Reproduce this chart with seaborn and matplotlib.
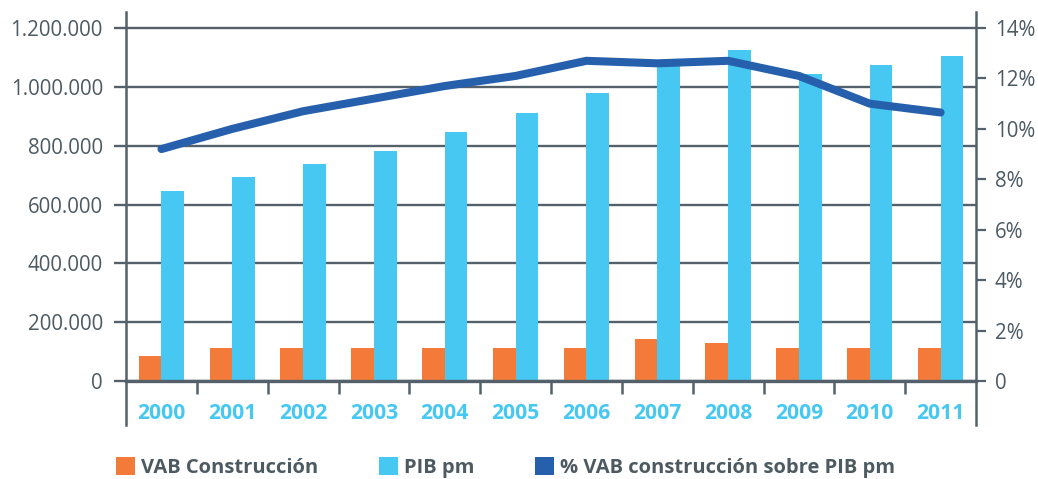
import numpy as np
import pandas as pd
import matplotlib
matplotlib.use("Agg")
import matplotlib.pyplot as plt
from matplotlib.patches import Patch
from matplotlib.ticker import FixedLocator
import seaborn as sns

years = ["2000", "2001", "2002", "2003", "2004", "2005",
         "2006", "2007", "2008", "2009", "2010", "2011"]
vab = [85000, 112000, 112000, 112000, 112000, 112000,
       112000, 143000, 129000, 112000, 112000, 112000]
pib = [646000, 694000, 738000, 782000, 847000, 912000,
       980000, 1085000, 1126000, 1044000, 1075000, 1106000]
pct = [9.2, 10.0, 10.7, 11.2, 11.7, 12.1, 12.7, 12.6, 12.7, 12.1, 11.0, 10.65]

left_ticks = [0, 200000, 400000, 600000, 800000, 1000000, 1200000]
left_labels = ["0", "200.000", "400.000", "600.000", "800.000", "1.000.000", "1.200.000"]
right_ticks = [0, 2, 4, 6, 8, 10, 12, 14]
right_labels = ["0", "2%", "4%", "6%", "8%", "10%", "12%", "14%"]

names = ["VAB Construcción", "PIB pm", "% VAB construcción sobre PIB pm"]
colors = ["#f37a38", "#46c8f3", "#2660ad"]
axis_col = "#54616a"
text_col = "#4d5a62"

sns.set_style("white")
plt.rcParams["font.family"] = ["Open Sans", "DejaVu Sans"]

df = pd.DataFrame({
    "year": years * 2,
    "value": vab + pib,
    "serie": [names[0]] * len(years) + [names[1]] * len(years),
})

fig = plt.figure(figsize=(10.38, 4.79), dpi=100)
ax = fig.add_axes([0.1214, 0.1127, 0.8189, 0.8622])

sns.barplot(data=df, x="year", y="value", hue="serie",
            palette=colors[:2], width=0.64, gap=0, saturation=1,
            linewidth=0, legend=False, ax=ax)

ax.set_xlim(-0.5, len(years) - 0.5)
ylim = (-149600, 1254400)
ax.set_ylim(*ylim)
ax.set_xlabel("")
ax.set_ylabel("")

ax.set_yticks(left_ticks)
ax.set_yticklabels(left_labels)
ax.yaxis.grid(True, color=axis_col, linewidth=1.7)
ax.set_axisbelow(True)
ax.tick_params(axis="y", length=8.6, width=1.7, color=axis_col, pad=8,
               labelsize=14.8, labelcolor=text_col, direction="out", left=True)

ax.spines["top"].set_visible(False)
ax.spines["right"].set_visible(False)
ax.spines["left"].set_color(axis_col)
ax.spines["left"].set_linewidth(1.8)
ax.spines["bottom"].set_position(("data", 0))
ax.spines["bottom"].set_color(axis_col)
ax.spines["bottom"].set_linewidth(2.4)

ax.xaxis.set_minor_locator(FixedLocator(np.arange(0.5, len(years) - 1, 1)))
ax.tick_params(axis="x", which="major", length=0, pad=16, labelsize=15.2,
               labelcolor=colors[1])
ax.tick_params(axis="x", which="minor", length=9.5, width=1.8,
               color=axis_col, direction="out", bottom=True)
for lbl in ax.get_xticklabels():
    lbl.set_fontweight("bold")

ax2 = ax.twinx()
sns.lineplot(x=np.arange(len(years)), y=pct, color=colors[2], linewidth=5.8,
             ax=ax2, solid_capstyle="round", solid_joinstyle="round")
ax2.set_ylim(ylim[0] * 14 / 1200000, ylim[1] * 14 / 1200000)
ax2.set_yticks(right_ticks)
ax2.set_yticklabels(right_labels)
ax2.tick_params(axis="y", length=7.5, width=1.6, color=axis_col, pad=6,
                labelsize=14.8, labelcolor=text_col, direction="out", right=True)
ax2.set_ylabel("")
for side in ["top", "left", "bottom"]:
    ax2.spines[side].set_visible(False)
ax2.spines["right"].set_color(axis_col)
ax2.spines["right"].set_linewidth(1.8)

handles = [Patch(facecolor=c, edgecolor="none") for c in colors]
leg = fig.legend(handles, names, loc="center left", bbox_to_anchor=(0.112, 0.024),
                 ncol=3, frameon=False, fontsize=14.5, handlelength=0.95,
                 handleheight=0.95, handletextpad=0.3, columnspacing=3.0,
                 borderpad=0, borderaxespad=0)
for t in leg.get_texts():
    t.set_color(text_col)
    t.set_fontweight("bold")

fig.savefig("out.png", dpi=100)
plt.close(fig)
